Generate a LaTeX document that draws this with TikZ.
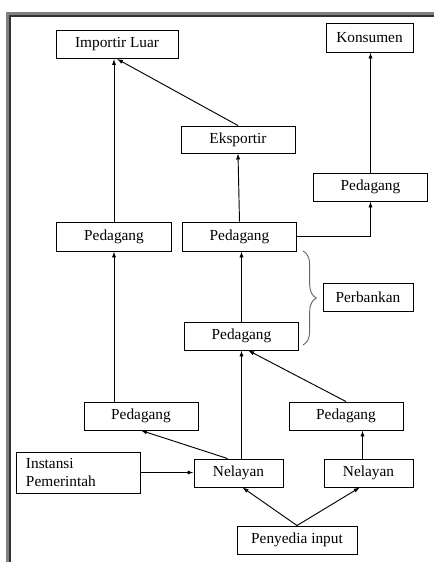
\documentclass[tikz,border=0pt]{standalone}
\usepackage{fontspec}
\setmainfont{Liberation Serif}
\usetikzlibrary{arrows.meta,decorations.pathreplacing}
\begin{document}
\begin{tikzpicture}[x = .75pt, y = -.75pt,
		kotak/.style = {draw, line width = .7pt, minimum width = 86pt, minimum height = 21pt, inner sep = 2pt, font = \fontsize{11.5}{13.5}\selectfont},
		panah/.style = {-{Latex[length = 4.5pt, width = 3.2pt]}, line width = .7pt}]
				\useasboundingbox (0, 0) rectangle (434, 562);
				\draw[line width = 2.4pt, gray] (7.5, 562)--(7.5, 13.5)--(434, 13.5);
				\draw[line width = 1pt, black!80] (10, 562)--(10, 16)--(434, 16);
				% atas
				\node[kotak, minimum width = 91.5pt] (imp) at (117, 44.5) {Importir Luar};
				\node[kotak, minimum width = 65.25pt, minimum height = 21.75pt] (kons) at (369.5, 37.5) {Konsumen};
				\node[kotak, minimum width = 85.5pt, minimum height = 20.25pt] (eks) at (238, 139.5) {Eksportir};
				\node[kotak] (pdgKa) at (370.5, 187) {Pedagang};
				\node[kotak, minimum height = 21.75pt] (pdgKi) at (114, 236.5) {Pedagang};
				\node[kotak, minimum height = 21.75pt] (pdgTe) at (239.5, 236.5) {Pedagang};
				% tengah
				\node[kotak, minimum width = 67.5pt] (bank) at (368, 297) {Perbankan};
				\node[kotak] (pdgC) at (241.5, 336) {Pedagang};
				\node[kotak, minimum width = 85.5pt] (pdgBKi) at (141, 416) {Pedagang};
				\node[kotak, minimum width = 85.5pt] (pdgBKa) at (346, 416) {Pedagang};
				% bawah
				\node[kotak, minimum width = 93pt, minimum height = 30.75pt, align = left, text width = 78pt] (inst) at (78, 472.5) {Instansi\\Pemerintah};
				\node[kotak, minimum width = 66.75pt] (nelC) at (238.5, 473) {Nelayan};
				\node[kotak, minimum width = 66.75pt] (nelKa) at (368.5, 473) {Nelayan};
				\node[kotak, minimum width = 90pt] (peny) at (297, 540) {Penyedia input};
				% panah
				\draw[panah] (pdgKi.north)--(pdgKi.north |- imp.south);
				\draw[panah] (eks.north)--(imp.south);
				\draw[panah] (pdgTe.north)--(eks.south);
				\draw[panah] (pdgTe.east) -| (pdgKa.south);
				\draw[panah] (pdgKa.north)--(pdgKa.north |- kons.south);
				\draw[panah] (pdgC.north)--(pdgC.north |- pdgTe.south);
				\draw[panah] (pdgBKi.north -| pdgKi.south)--(pdgKi.south);
				\draw[panah] (nelC.north -| pdgC.south)--(pdgC.south);
				\draw[panah] (pdgBKa.north)--(pdgC.-65);
				\draw[panah] (nelC.127)--(pdgBKi.south);
				\draw[panah] ([xshift = -4.5pt]nelKa.north)--([xshift = -4.5pt]nelKa.north |- pdgBKa.south);
				\draw[panah] (inst.east)--(inst.east -| nelC.west);
				\draw[panah] (peny.north)--([xshift = 3pt]nelC.south);
				\draw[panah] (peny.north)--([xshift = -6.5pt]nelKa.south);
				% kurung
				\draw[gray!80!black, line width = .7pt, decorate, decoration = {brace, amplitude = 10pt}] (303, 251)--(303, 345);
			\end{tikzpicture}
\end{document}
